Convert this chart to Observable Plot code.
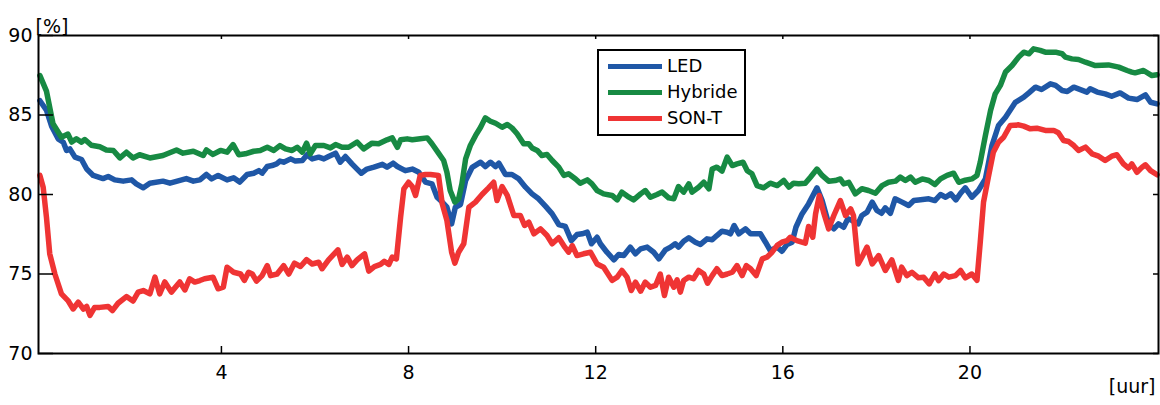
<!DOCTYPE html>
<html><head><meta charset="utf-8">
<script src="https://cdn.jsdelivr.net/npm/d3@7"></script>
<script src="https://cdn.jsdelivr.net/npm/@observablehq/plot@0.6"></script>
<style>
body{margin:0;background:#fff;font-family:"DejaVu Sans",Verdana,sans-serif;}
#wrap{position:relative;width:1160px;height:405px;}
#wrap svg{display:block;}
.legend{position:absolute;left:597px;top:49px;width:145px;height:83px;border:2px solid #000;background:#fff;}
.sw{position:absolute;left:9px;width:54px;height:5px;}
.lb{position:absolute;left:68px;height:22px;line-height:22px;font-size:18px;color:#000;white-space:nowrap;}
</style>
</head><body>
<div id="wrap"></div>
<script>
const seriesNames = ["LED", "Hybride", "SON-T"];
const seriesColors = ["#1f57a6", "#178a43", "#ef3434"];
const xTicks = [4, 8, 12, 16, 20];
const yTicks = [70, 75, 80, 85, 90];
const xDomain = [0.09, 24.03];
const yDomain = [70, 90];

const ledData = [[0.12,85.9],[0.26,85.3],[0.37,84.3],[0.51,83.5],[0.62,83.29],[0.69,82.77],[0.76,82.87],[0.87,82.35],[1.01,82.2],[1.12,81.6],[1.26,81.2],[1.47,81.0],[1.58,81.13],[1.72,80.92],[1.90,80.84],[2.08,80.92],[2.18,80.67],[2.33,80.42],[2.47,80.71],[2.75,80.84],[2.90,80.71],[3.25,81.0],[3.40,80.84],[3.54,80.92],[3.68,81.26],[3.79,80.98],[3.93,81.2],[4.12,80.92],[4.26,81.05],[4.39,80.78],[4.55,81.26],[4.69,81.34],[4.80,81.5],[4.87,81.34],[4.98,81.76],[5.08,81.82],[5.18,81.93],[5.25,82.1],[5.33,82.03],[5.48,82.24],[5.58,82.1],[5.73,82.14],[5.83,82.5],[5.94,82.24],[6.08,82.35],[6.19,82.24],[6.29,82.39],[6.44,82.6],[6.54,82.03],[6.65,82.39],[6.79,81.93],[6.90,81.6],[6.99,81.34],[7.11,81.6],[7.26,81.72],[7.44,81.9],[7.54,81.72],[7.67,81.97],[7.76,81.76],[7.93,81.5],[8.08,81.6],[8.22,81.4],[8.36,80.78],[8.50,80.67],[8.61,79.83],[8.72,79.52],[8.82,79.2],[8.92,78.15],[9.00,79.2],[9.11,79.37],[9.22,80.88],[9.36,81.71],[9.54,82.03],[9.64,81.76],[9.75,82.03],[9.86,81.76],[9.93,81.97],[10.07,81.26],[10.21,81.26],[10.35,81.0],[10.50,80.46],[10.64,80.04],[10.78,79.73],[10.93,79.25],[11.07,78.78],[11.21,78.11],[11.35,77.99],[11.48,77.1],[11.60,77.48],[11.71,77.53],[11.82,77.63],[11.91,76.9],[12.03,77.31],[12.10,76.9],[12.24,76.37],[12.39,75.89],[12.49,76.23],[12.60,76.16],[12.74,76.69],[12.85,76.27],[12.96,76.58],[13.10,76.69],[13.24,76.37],[13.35,75.95],[13.49,76.52],[13.60,76.69],[13.70,76.9],[13.77,76.69],[13.88,77.06],[13.99,77.28],[14.13,77.0],[14.24,76.86],[14.38,77.21],[14.49,77.15],[14.59,77.42],[14.70,77.69],[14.81,77.63],[14.88,77.53],[14.96,78.05],[15.06,77.53],[15.20,77.84],[15.31,77.53],[15.52,77.53],[15.63,77.0],[15.73,76.48],[15.88,76.69],[15.98,76.43],[16.09,76.86],[16.20,77.0],[16.28,77.94],[16.41,78.78],[16.55,79.41],[16.73,80.42],[16.84,79.62],[16.98,78.15],[17.09,77.84],[17.19,78.15],[17.30,77.94],[17.39,78.47],[17.48,78.36],[17.61,78.15],[17.69,78.68],[17.80,78.89],[17.91,79.52],[18.01,79.0],[18.11,78.82],[18.19,79.16],[18.30,78.82],[18.40,79.73],[18.55,79.52],[18.69,79.31],[18.80,79.62],[18.90,79.66],[19.12,79.73],[19.25,79.62],[19.37,80.0],[19.48,79.83],[19.59,80.04],[19.70,79.66],[19.80,80.08],[19.90,80.42],[20.04,79.83],[20.18,80.25],[20.33,80.98],[20.47,83.08],[20.61,84.34],[20.76,84.86],[20.97,85.8],[21.15,86.12],[21.26,86.39],[21.40,86.75],[21.53,86.6],[21.72,86.96],[21.83,86.86],[21.97,86.54],[22.08,86.48],[22.22,86.75],[22.36,86.6],[22.50,86.44],[22.57,86.65],[22.72,86.44],[22.89,86.33],[23.03,86.18],[23.21,86.39],[23.39,86.06],[23.57,85.97],[23.75,86.27],[23.86,85.8],[24.00,85.7]];

const hybrideData = [[0.12,87.48],[0.26,86.5],[0.40,84.45],[0.58,83.6],[0.72,83.8],[0.80,83.3],[0.90,83.5],[1.01,83.29],[1.08,83.46],[1.22,83.1],[1.40,83.0],[1.54,82.8],[1.69,82.77],[1.83,82.3],[1.97,82.66],[2.11,82.3],[2.25,82.5],[2.47,82.3],[2.75,82.45],[3.04,82.8],[3.18,82.6],[3.40,82.72],[3.61,82.45],[3.68,82.8],[3.82,82.52],[3.98,82.77],[4.12,82.66],[4.25,83.14],[4.37,82.5],[4.51,82.56],[4.69,82.72],[4.83,82.77],[4.98,82.97],[5.12,82.77],[5.25,83.08],[5.37,82.87],[5.51,82.77],[5.62,82.97],[5.73,82.66],[5.82,83.23],[5.90,82.56],[6.01,83.08],[6.19,83.08],[6.33,82.93],[6.44,83.14],[6.58,82.97],[6.72,82.97],[6.90,83.3],[7.04,82.87],[7.22,83.23],[7.36,83.19],[7.54,83.44],[7.65,83.56],[7.76,82.97],[7.83,83.44],[7.97,83.5],[8.08,83.44],[8.25,83.5],[8.40,83.56],[8.50,83.19],[8.64,82.6],[8.75,82.14],[8.82,81.4],[8.89,80.25],[8.99,79.52],[9.07,79.73],[9.14,80.67],[9.22,82.24],[9.32,83.08],[9.43,83.7],[9.54,84.23],[9.64,84.82],[9.75,84.61],[9.86,84.48],[10.0,84.23],[10.11,84.4],[10.21,84.19],[10.32,83.82],[10.46,83.19],[10.57,83.19],[10.64,82.93],[10.75,82.77],[10.85,82.45],[10.96,82.52],[11.07,82.14],[11.21,81.72],[11.32,81.2],[11.42,81.3],[11.57,80.98],[11.67,80.71],[11.82,80.92],[11.92,80.67],[12.03,80.25],[12.17,80.04],[12.35,79.94],[12.46,79.66],[12.56,80.15],[12.71,79.83],[12.81,79.66],[12.96,80.04],[13.06,80.25],[13.17,79.83],[13.31,80.0],[13.42,80.15],[13.56,79.79],[13.67,79.73],[13.77,80.5],[13.88,80.15],[13.99,80.67],[14.06,80.15],[14.20,80.46],[14.31,80.77],[14.42,80.36],[14.49,81.6],[14.59,81.72],[14.70,81.47],[14.81,82.35],[14.92,81.82],[15.02,81.93],[15.15,82.03],[15.24,81.5],[15.34,81.3],[15.45,80.56],[15.59,80.42],[15.73,80.71],[15.88,80.56],[16.02,80.88],[16.13,80.46],[16.23,80.71],[16.34,80.67],[16.48,80.71],[16.59,81.09],[16.73,81.6],[16.84,81.2],[16.98,80.84],[17.12,80.88],[17.23,80.98],[17.30,80.67],[17.41,80.77],[17.55,80.04],[17.69,80.36],[17.83,80.25],[17.98,80.08],[18.12,80.56],[18.26,80.77],[18.41,80.84],[18.51,81.09],[18.62,80.88],[18.73,81.09],[18.83,80.77],[18.98,80.98],[19.12,80.88],[19.25,80.63],[19.37,80.98],[19.51,81.2],[19.65,81.34],[19.76,80.77],[19.90,80.9],[20.04,80.98],[20.15,81.2],[20.22,82.03],[20.33,83.71],[20.44,85.28],[20.54,86.33],[20.65,86.86],[20.76,87.7],[20.90,88.11],[21.04,88.64],[21.15,88.95],[21.26,88.85],[21.36,89.16],[21.50,89.06],[21.61,88.95],[21.83,88.95],[21.97,88.85],[22.04,88.64],[22.18,88.53],[22.32,88.49],[22.47,88.32],[22.68,88.11],[22.96,88.15],[23.18,88.01],[23.36,87.8],[23.46,87.7],[23.53,87.65],[23.71,87.8],[23.89,87.48],[24.0,87.53]];

const sonTData = [[0.12,81.2],[0.19,80.46],[0.26,78.57],[0.33,76.27],[0.44,75.0],[0.58,73.75],[0.72,73.33],[0.83,72.8],[0.94,73.23],[1.05,72.8],[1.12,72.96],[1.19,72.4],[1.29,72.9],[1.40,72.9],[1.58,72.96],[1.67,72.7],[1.79,73.16],[1.97,73.58],[2.11,73.3],[2.22,73.86],[2.33,73.96],[2.47,73.75],[2.58,74.8],[2.68,73.75],[2.79,74.5],[2.93,73.86],[3.11,74.5],[3.22,74.0],[3.32,74.7],[3.43,74.49],[3.54,74.59],[3.64,74.7],[3.82,74.8],[3.93,74.07],[4.04,74.17],[4.12,75.43],[4.26,75.11],[4.41,75.0],[4.49,74.6],[4.58,75.11],[4.66,75.0],[4.75,74.55],[4.87,74.9],[4.98,75.53],[5.05,74.9],[5.19,75.0],[5.33,75.53],[5.44,75.0],[5.56,75.68],[5.69,75.47],[5.82,75.9],[5.94,75.63],[6.08,75.74],[6.15,75.33],[6.29,75.89],[6.49,76.52],[6.58,75.6],[6.69,76.06],[6.79,75.53],[6.90,75.89],[7.06,76.27],[7.15,75.18],[7.27,75.47],[7.40,75.6],[7.48,75.8],[7.58,75.6],[7.65,76.06],[7.74,75.95],[7.83,78.57],[7.90,80.36],[8.00,80.77],[8.08,80.5],[8.15,79.94],[8.25,81.2],[8.36,81.26],[8.47,81.26],[8.64,81.2],[8.72,79.41],[8.82,78.36],[8.92,76.37],[8.99,75.68],[9.07,76.37],[9.18,76.9],[9.29,79.2],[9.43,79.52],[9.57,80.0],[9.71,80.42],[9.82,80.77],[9.89,79.62],[10.00,80.5],[10.11,79.94],[10.25,78.68],[10.39,78.68],[10.48,78.05],[10.57,78.26],[10.68,77.53],[10.82,77.84],[10.96,77.42],[11.07,76.9],[11.21,77.28],[11.34,76.69],[11.42,76.37],[11.50,76.79],[11.60,76.16],[11.74,76.27],[11.89,76.37],[12.03,75.63],[12.17,75.43],[12.35,74.6],[12.46,74.8],[12.56,75.22],[12.67,74.8],[12.76,73.96],[12.85,74.49],[12.96,73.92],[13.06,74.49],[13.17,74.17],[13.28,74.28],[13.38,75.0],[13.47,73.65],[13.56,74.8],[13.67,74.17],[13.74,74.63],[13.81,73.86],[13.88,74.59],[13.99,74.8],[14.09,74.7],[14.20,75.22],[14.31,75.0],[14.39,74.42],[14.49,74.9],[14.59,75.33],[14.70,74.9],[14.81,75.0],[14.92,75.11],[15.02,75.53],[15.13,74.9],[15.22,75.53],[15.31,75.33],[15.43,74.9],[15.56,75.95],[15.66,76.06],[15.77,76.37],[15.88,76.8],[15.98,77.0],[16.09,77.1],[16.16,77.31],[16.30,77.1],[16.48,76.94],[16.55,77.99],[16.64,77.31],[16.70,78.78],[16.78,79.94],[16.87,78.89],[16.98,77.84],[17.09,78.68],[17.23,79.62],[17.34,78.68],[17.45,79.1],[17.51,78.68],[17.61,75.63],[17.69,76.06],[17.80,76.69],[17.91,75.63],[18.05,76.16],[18.19,75.22],[18.33,75.89],[18.47,74.6],[18.54,75.43],[18.65,74.9],[18.76,75.11],[18.90,74.76],[19.01,74.8],[19.13,74.38],[19.25,75.0],[19.33,74.59],[19.44,75.0],[19.55,74.8],[19.69,74.9],[19.80,75.22],[19.90,74.76],[20.04,75.0],[20.15,74.6],[20.22,77.0],[20.29,79.52],[20.40,81.2],[20.50,82.66],[20.61,83.29],[20.72,83.6],[20.86,84.34],[21.04,84.38],[21.15,84.3],[21.29,84.13],[21.43,84.17],[21.61,84.03],[21.79,84.03],[21.89,83.88],[22.00,83.4],[22.11,83.33],[22.22,83.08],[22.32,82.77],[22.47,82.98],[22.61,82.56],[22.75,82.41],[22.89,82.14],[23.03,82.41],[23.14,82.5],[23.28,81.93],[23.39,81.66],[23.46,81.93],[23.57,81.4],[23.68,81.72],[23.75,81.87],[23.86,81.5],[24.0,81.24]];

const W = 1160, H = 405;
const mL = 38, mR = 2, mT = 35, mB = 52;
const plotW = W - mL - mR, plotH = H - mT - mB;
const seriesData = [ledData, hybrideData, sonTData];

const lineMarks = seriesData.map((data, i) =>
  Plot.line(data, {x: d => d[0], y: d => d[1], stroke: seriesColors[i], strokeWidth: 5.5, strokeLinejoin: "round", strokeLinecap: "round"})
);

const chart = Plot.plot({
  width: W, height: H,
  marginLeft: mL, marginRight: mR, marginTop: mT, marginBottom: mB,
  style: {fontFamily: "'DejaVu Sans', Verdana, sans-serif", fontSize: "19px", color: "#000", background: "#fff", overflow: "visible"},
  x: {domain: xDomain},
  y: {domain: yDomain},
  marks: [
    Plot.axisX(xTicks, {tickSize: 0, tickPadding: 12, label: null, fontSize: 19}),
    Plot.axisY(yTicks, {tickSize: 0, tickPadding: 6, label: null, fontSize: 19}),
    ...lineMarks,
    Plot.tickY(yTicks, {y: d => d, insetRight: plotW - 15, stroke: "#000", strokeWidth: 1.5}),
    Plot.tickY(yTicks, {y: d => d, insetLeft: plotW - 5, stroke: "#000", strokeWidth: 1.5}),
    Plot.tickX(xTicks, {x: d => d, insetTop: plotH - 7, stroke: "#000", strokeWidth: 1.5}),
    Plot.tickX(xTicks, {x: d => d, insetBottom: plotH - 4, stroke: "#000", strokeWidth: 1.5}),
    Plot.frame({stroke: "#000", strokeWidth: 2}),
    Plot.text(["[%]"], {text: d => d, frameAnchor: "top-left", dx: -3, dy: -16, textAnchor: "start", fontSize: 19}),
    Plot.text(["[uur]"], {text: d => d, frameAnchor: "bottom-right", dx: -3, dy: 39, textAnchor: "end", fontSize: 19})
  ]
});

const wrap = document.getElementById("wrap");
wrap.appendChild(chart);

const legend = document.createElement("div");
legend.className = "legend";
seriesNames.forEach((name, i) => {
  const sw = document.createElement("div");
  sw.className = "sw";
  sw.style.background = seriesColors[i];
  sw.style.top = (12.5 + i * 26) + "px";
  const lb = document.createElement("div");
  lb.className = "lb";
  lb.textContent = name;
  lb.style.top = (4 + i * 26) + "px";
  legend.appendChild(sw);
  legend.appendChild(lb);
});
wrap.appendChild(legend);
</script>
</body></html>
